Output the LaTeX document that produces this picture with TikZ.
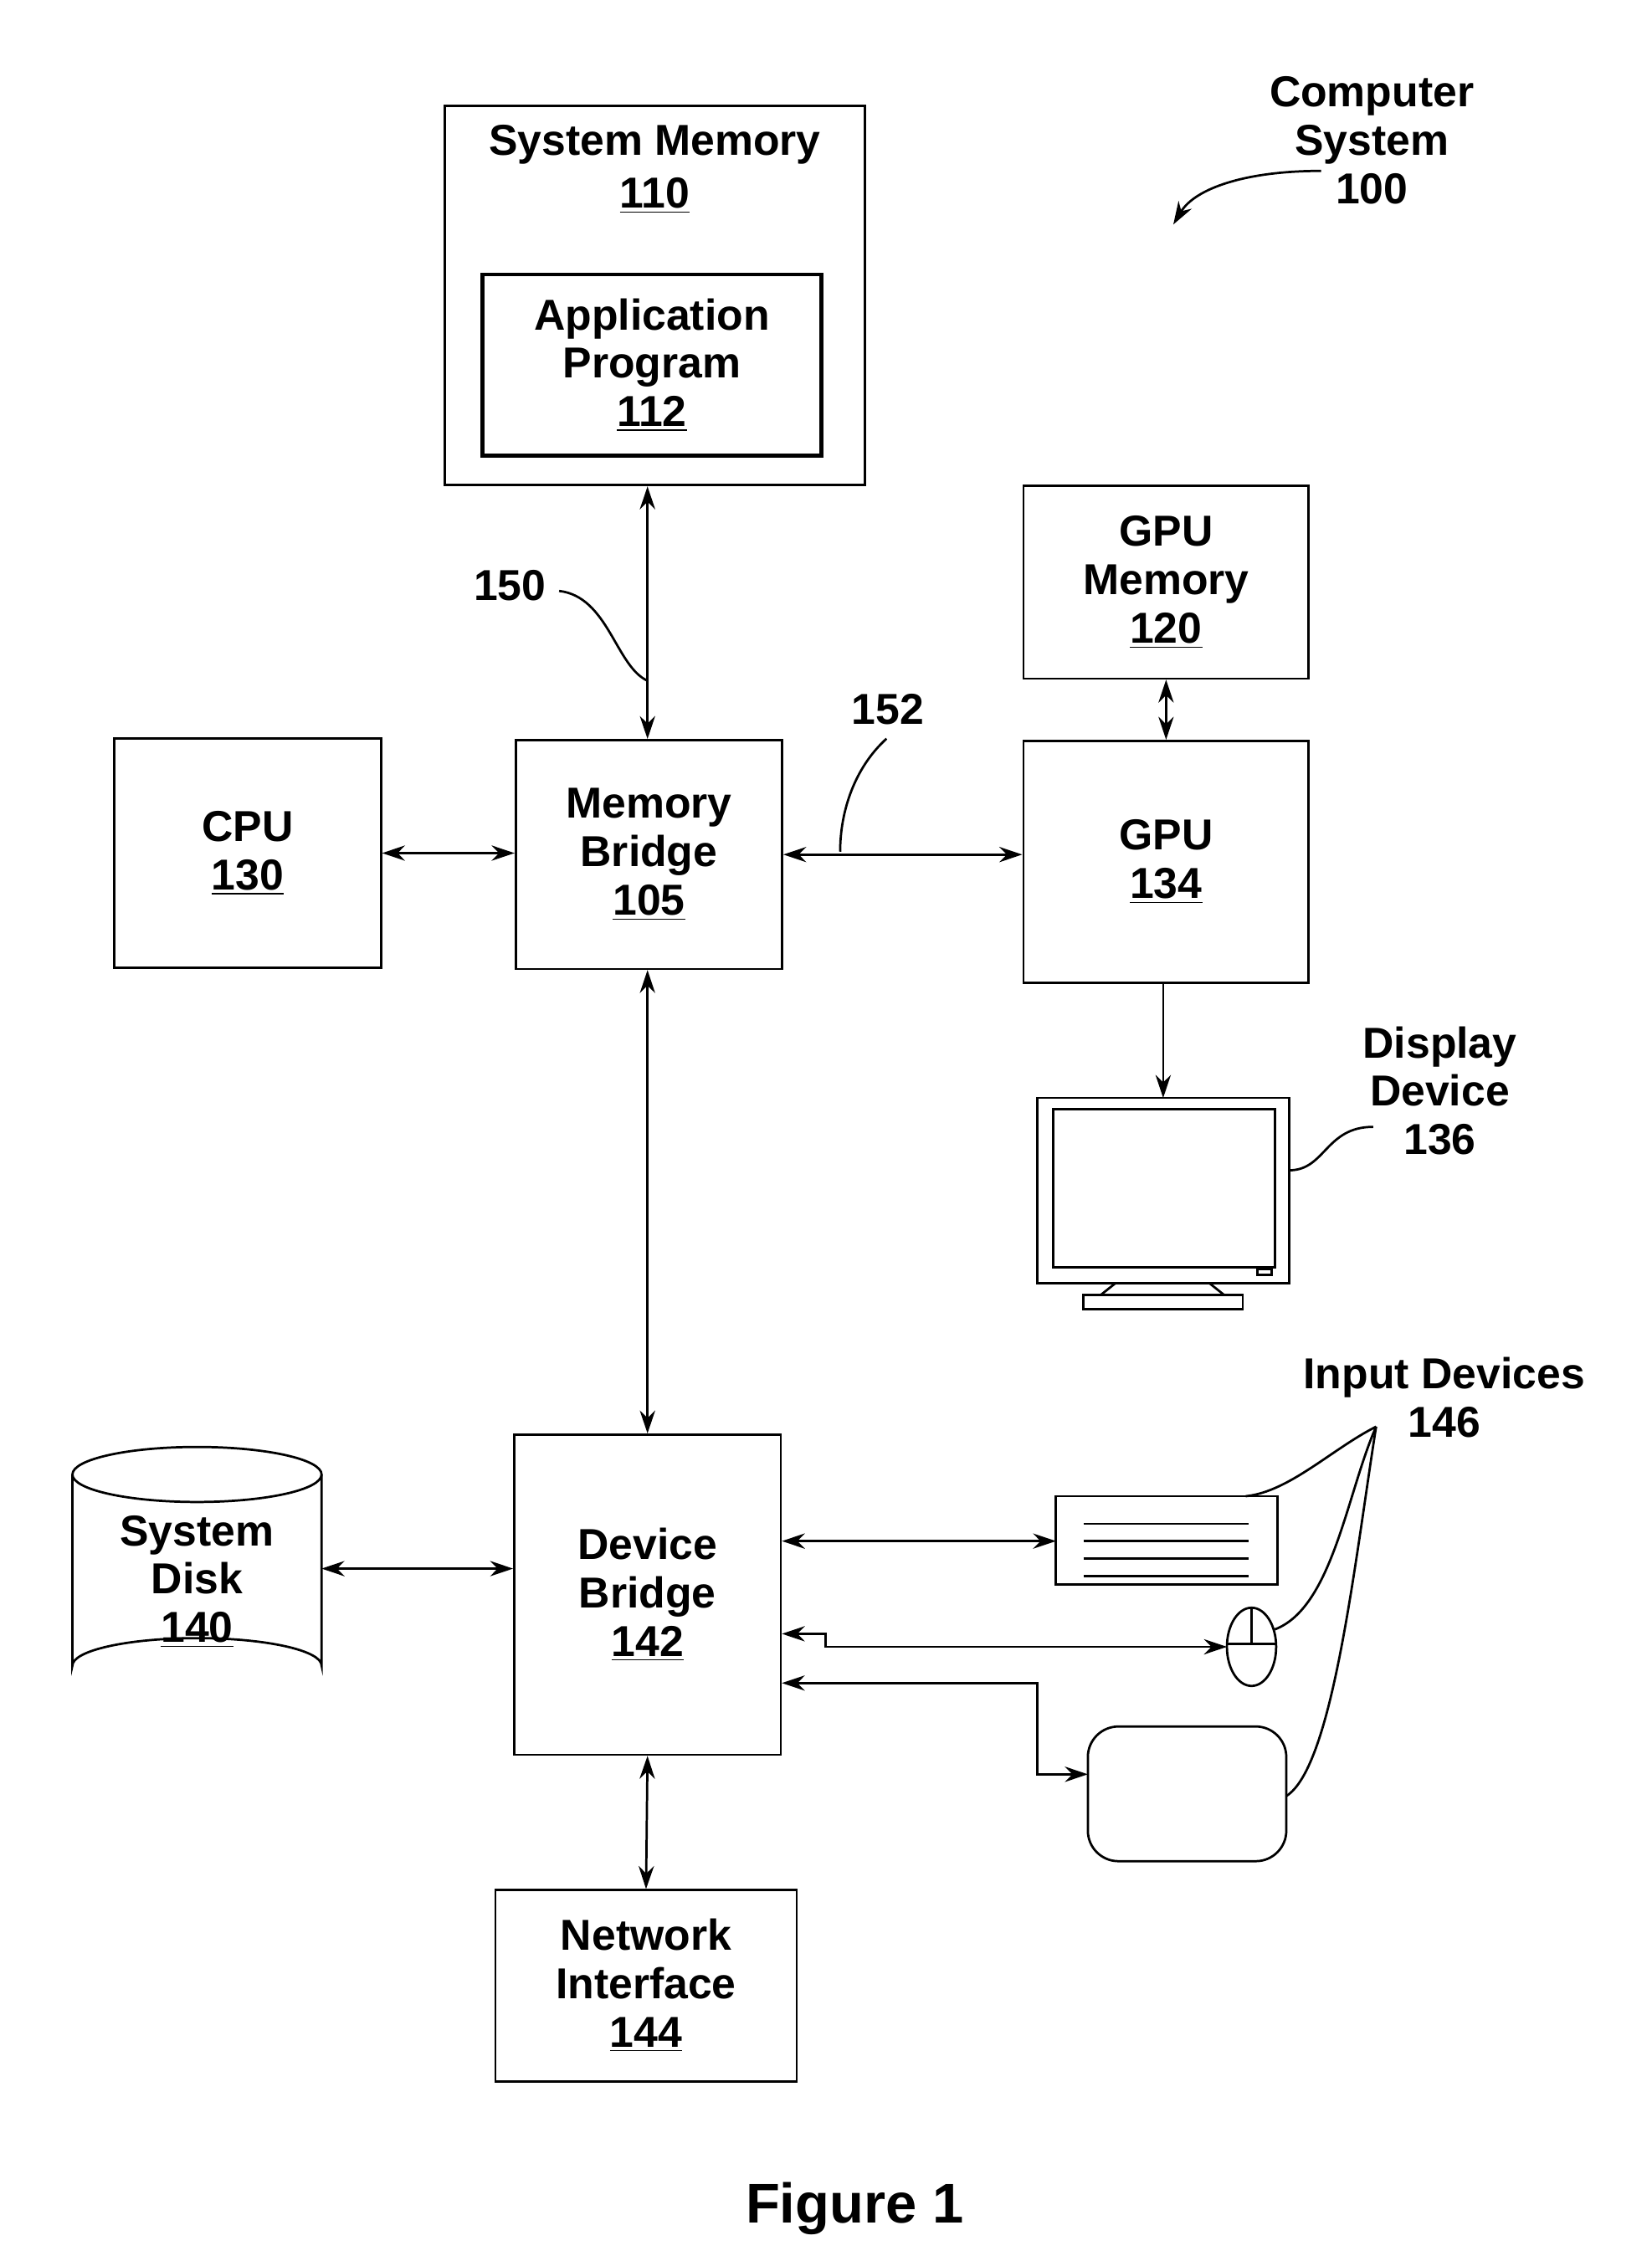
\documentclass[tikz,border=0pt]{standalone}
\usepackage{fontspec}
\setmainfont{Liberation Sans}
\usetikzlibrary{positioning, calc, arrows.meta, shapes.geometric}
\tikzset{>={Stealth[length=9pt,width=6pt]}}
\begin{document}
\begin{tikzpicture}[x=0.2mm,y=-0.2mm,line width=0.9pt,
  font=\fontsize{17}{21}\selectfont\bfseries]
  \tikzstyle{unit}=[draw,align=center,inner sep=0pt]
  \tikzstyle{lbl}=[align=center,inner sep=0pt]
  \tikzstyle{bus}=[<->]
  \useasboundingbox (0,0) rectangle (1140,1557.6);

  % boxes
  \node[unit,minimum width=290*0.2mm,minimum height=262*0.2mm] (sysmem) at (452,204) {};
  \node[lbl] at (452,100) {System Memory};
  \node[lbl] at (452,135) {\underline{110}};
  \node[unit,line width=1.6pt,minimum width=234*0.2mm,minimum height=125*0.2mm] (app) at (450,252)
    {Application\\[-2pt]Program\\[-2pt]\underline{112}};
  \node[unit,minimum width=197*0.2mm,minimum height=133*0.2mm] (gpumem) at (805,402)
    {GPU\\[-2pt]Memory\\[-2pt]\underline{120}};
  \node[unit,minimum width=184*0.2mm,minimum height=158*0.2mm] (cpu) at (171,589)
    {CPU\\[-2pt]\underline{130}};
  \node[unit,minimum width=184*0.2mm,minimum height=158*0.2mm] (membr) at (448,590)
    {Memory\\[-2pt]Bridge\\[-2pt]\underline{105}};
  \node[unit,minimum width=197*0.2mm,minimum height=167*0.2mm] (gpu) at (805,595)
    {GPU\\[-2pt]\underline{134}};
  \node[unit,minimum width=184*0.2mm,minimum height=221*0.2mm] (devbr) at (447,1101)
    {Device\\[-2pt]Bridge\\[-2pt]\underline{142}};
  \node[unit,minimum width=208*0.2mm,minimum height=132*0.2mm] (net) at (446,1371)
    {Network\\[-2pt]Interface\\[-2pt]\underline{144}};

  % system disk
  \draw (50,1018) -- (50,1150) arc[start angle=180,end angle=360,x radius=86,y radius=19]
    -- (222,1018);
  \draw (136,1018) ellipse[x radius=86,y radius=19];
  \coordinate (disk) at (222,1083);
  \node[lbl] at (136,1092) {System\\[-2pt]Disk\\[-2pt]\underline{140}};

  % display device
  \draw (716,758) rectangle (890,886);
  \draw (727,766) rectangle (880,875);
  \draw (868,876) rectangle (878,880);
  \draw (770,886) -- (760,894) -- (845,894) -- (835,886);
  \draw (748,894) -- (748,904) -- (858,904) -- (858,894) -- cycle;
  \coordinate (disp) at (803,758);

  % input devices
  \draw (729,1033) rectangle (882,1094);
  \foreach \yy in {1052,1064,1076,1088}
    \draw (748,\yy) -- (862,\yy);
  \draw (864,1137) ellipse[x radius=17,y radius=27];
  \draw (847,1135) -- (881,1135) (864,1110) -- (864,1135);
  \draw[rounded corners=12pt] (751,1192) rectangle (888,1285);

  % buses
  \draw[bus] (sysmem.south -| 447,0) -- (membr.north -| 447,0);
  \draw[bus] (cpu.east) -- (cpu.east -| membr.west);
  \draw[bus] (membr.east) -- (membr.east -| gpu.west);
  \draw[bus] (gpumem.south) -- (gpu.north);
  \draw[->] (gpu.south -| disp) -- (disp);
  \draw[bus] (membr.south -| 447,0) -- (devbr.north -| 447,0);
  \draw[bus] (disk) -- (disk -| devbr.west);
  \draw[bus] (devbr.east |- 0,1064) -- (729,1064);
  \draw[bus] (devbr.east |- 0,1128) -- (570,1128) -- (570,1137) -- (847,1137);
  \draw[bus] (devbr.east |- 0,1162) -- (716,1162) -- (716,1225) -- (751,1225);
  \draw[bus] (devbr.south) -- (net.north);

  % labels
  \node[lbl] at (947,97) {Computer\\[-2pt]System\\[-2pt]100};
  \draw[->] (912,118) .. controls (860,118) and (825,130) .. (810,155);
  \node[lbl] (l150) at (352,404) {150};
  \draw (386,408) .. controls (420,412) and (425,460) .. (447,470);
  \node[lbl] (l152) at (613,490) {152};
  \draw (612,510) .. controls (590,530) and (580,560) .. (580,588);
  \node[lbl] at (994,753) {Display\\[-2pt]Device\\[-2pt]136};
  \draw (948,778) .. controls (915,778) and (915,808) .. (890,808);
  \node[lbl] at (997,965) {Input Devices\\[-2pt]146};
  \draw (950,985) .. controls (920,1000) and (890,1030) .. (860,1033);
  \draw (950,985) .. controls (930,1030) and (920,1110) .. (880,1125);
  \draw (950,985) .. controls (935,1080) and (920,1220) .. (888,1240);
  \node[lbl,font=\fontsize{22}{26}\selectfont\bfseries] at (590,1525) {Figure 1};
\end{tikzpicture}
\end{document}
